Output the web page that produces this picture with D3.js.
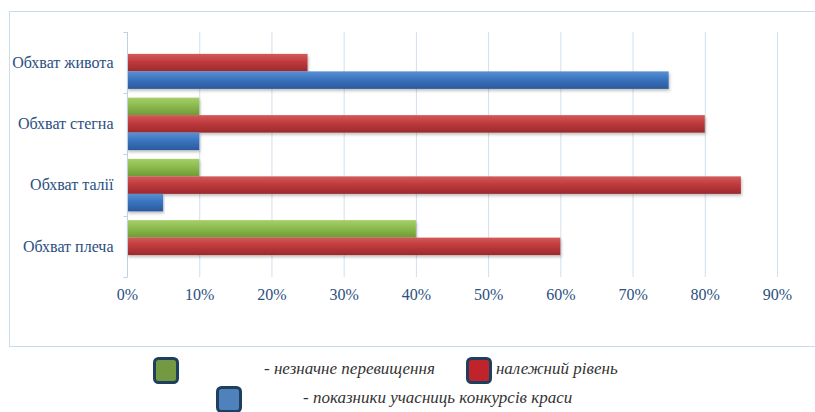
<!DOCTYPE html>
<html><head><meta charset="utf-8">
<script src="https://cdn.jsdelivr.net/npm/d3@7"></script>
<style>body{margin:0;background:#fff}svg{display:block}</style>
</head><body><svg id="c" width="815" height="412"></svg>
<script>
const categories = ["Обхват живота","Обхват стегна","Обхват талії","Обхват плеча"];
const seriesNames = ["незначне перевищення","належний рівень","показники учасниць конкурсів краси"];
const greenValues = [0, 10, 10, 40];
const redValues = [25, 80, 85, 60];
const blueValues = [75, 10, 5, 0];
const tickValues = [0,10,20,30,40,50,60,70,80,90];
const SERIF = "'Liberation Serif'";

const svg = d3.select("#c");
const defs = svg.append("defs");
const grads = [
  {id:"gG", c:["#a6cf6a","#8cbb4e","#6f9a36"]},
  {id:"gR", c:["#d25a5a","#c03a3c","#9a2a2c"]},
  {id:"gB", c:["#5a90d4","#3a74c0","#2b5a9a"]}
];
grads.forEach(g=>{
  const lg = defs.append("linearGradient").attr("id",g.id).attr("x1",0).attr("y1",0).attr("x2",0).attr("y2",1);
  lg.append("stop").attr("offset","0%").attr("stop-color",g.c[0]);
  lg.append("stop").attr("offset","45%").attr("stop-color",g.c[1]);
  lg.append("stop").attr("offset","100%").attr("stop-color",g.c[2]);
});
const f = defs.append("filter").attr("id","sh").attr("x","-5%").attr("y","-30%").attr("width","110%").attr("height","170%");
f.append("feDropShadow").attr("dx",1).attr("dy",2).attr("stdDeviation",1.5).attr("flood-color","#000").attr("flood-opacity",0.25);

// chart border
svg.append("rect").attr("x",9.5).attr("y",11.5).attr("width",830).attr("height",335)
  .attr("fill","none").attr("stroke","#c9dbee").attr("stroke-width",1);

const x = d3.scaleLinear().domain([0,90]).range([127,777]);
const y = d3.scaleBand().domain(categories).range([32,277]);
const inner = d3.scaleBand().domain([0,1,2]).range([0,y.bandwidth()]).paddingOuter(0.25).paddingInner(0);

// gridlines
svg.append("g").selectAll("line").data(tickValues.slice(1)).join("line")
  .attr("x1",d=>x(d)+0.5).attr("x2",d=>x(d)+0.5).attr("y1",32).attr("y2",277)
  .attr("stroke","#d3dfec").attr("stroke-width",1);

// bars
const series = [greenValues, redValues, blueValues];
const fills = ["url(#gG)","url(#gR)","url(#gB)"];
series.forEach((vals,si)=>{
  svg.append("g").selectAll("rect").data(categories).join("rect")
    .attr("x",x(0)).attr("y",(c)=>y(c)+inner(si))
    .attr("width",(c,i)=>Math.max(0,x(vals[i])-x(0)))
    .attr("height",inner.bandwidth())
    .attr("fill",fills[si]).attr("filter","url(#sh)");
});

// y axis
const yAxis = svg.append("g").attr("transform","translate(127.5,0)")
  .call(d3.axisLeft(y).tickSize(0).tickPadding(14));
yAxis.select(".domain").remove();
yAxis.append("line").attr("x1",0).attr("x2",0).attr("y1",32).attr("y2",277).attr("stroke","#bcd0e6");
yAxis.selectAll(".sep").data([32,93,154,216,277]).join("line").attr("class","sep")
  .attr("x1",-4).attr("x2",0).attr("y1",d=>d+0.5).attr("y2",d=>d+0.5).attr("stroke","#bcd0e6");
yAxis.selectAll("text").style("font-family",SERIF).style("font-size","16px").attr("fill","#2a5080");

// x axis
const xAxis = svg.append("g").attr("transform","translate(0,277)")
  .call(d3.axisBottom(x).tickValues(tickValues).tickFormat(d=>d+"%").tickSize(0).tickPadding(12));
xAxis.select(".domain").remove();
xAxis.selectAll("text").style("font-family",SERIF).style("font-size","16px").attr("fill","#2a5080");

// legend
const legend = [
  {x:153, y:357, c:"#739a43", tx:264, ty:374, t:"- "+seriesNames[0]},
  {x:466, y:357, c:"#c0242a", tx:486, ty:374, t:"- "+seriesNames[1]},
  {x:216, y:386, c:"#4f81bd", tx:303, ty:403, t:"- "+seriesNames[2]}
];
const lg = svg.append("g");
lg.selectAll("text").data(legend).join("text")
  .attr("x",d=>d.tx).attr("y",d=>d.ty).text(d=>d.t)
  .style("font-family",SERIF).style("font-style","italic")
  .style("font-size","17px").attr("fill","#333");
lg.selectAll("rect").data(legend).join("rect")
  .attr("x",d=>d.x+1.5).attr("y",d=>d.y+1.5).attr("width",23).attr("height",24).attr("rx",4)
  .attr("fill",d=>d.c).attr("stroke","#1f3f5f").attr("stroke-width",3);
</script></body></html>
